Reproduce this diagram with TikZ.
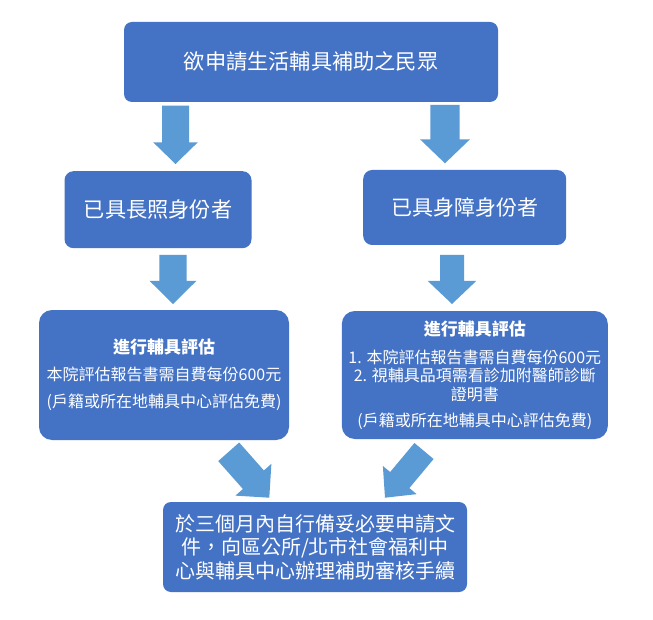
\documentclass[tikz,border=0pt]{standalone}
\usepackage{fontspec}
\setmainfont{Noto Sans CJK TC}
\usetikzlibrary{calc}
\definecolor{boxblue}{HTML}{4472C4}
\definecolor{arrowblue}{HTML}{5B9BD5}
\tikzset{
  box/.style={fill=boxblue, text=white, rounded corners=#1, inner sep=0pt, align=center},
  box/.default=8pt,
  barrowfill/.style={fill=arrowblue}
}
% tail, tip, shaft half width, head half width, head length
\newcommand\blockarrow[5]{%
  \coordinate (#1-hb) at ($(#2)!#5!(#1)$);
  \fill[barrowfill]
    ($(#1)!#3!90:(#2)$) --
    ($(#1-hb)!#3!90:(#2)$) --
    ($(#1-hb)!#4!90:(#2)$) --
    (#2) --
    ($(#1-hb)!#4!-90:(#2)$) --
    ($(#1-hb)!#3!-90:(#2)$) --
    ($(#1)!#3!-90:(#2)$) -- cycle;
}
\begin{document}
\begin{tikzpicture}[x=1pt,y=-1pt]
\fill[white] (0,0) rectangle (653,620);
\useasboundingbox (0,0) rectangle (653,620);

\node[box=8pt, minimum width=374pt, minimum height=80pt,
      font=\fontsize{21.2pt}{25pt}\selectfont] (top) at (311,62) {欲申請生活輔具補助之民眾};

\node[box=9pt, minimum width=187pt, minimum height=77pt,
      font=\fontsize{21.2pt}{25pt}\selectfont] (ltc) at (158,209.7) {已具長照身份者};

\node[box=9pt, minimum width=203pt, minimum height=75pt,
      font=\fontsize{21pt}{25pt}\selectfont] (dis) at (464.7,207.5) {已具身障身份者};

\node[box=13pt, minimum width=250pt, minimum height=130pt,
      font=\fontsize{16pt}{27pt}\selectfont] (evl) at (164,375)
  {{\fontsize{17pt}{27pt}\selectfont\bfseries 進行輔具評估}\\本院評估報告書需自費每份600元\\(戶籍或所在地輔具中心評估免費)};

\node[box=13pt, minimum width=266pt, minimum height=128pt,
      font=\fontsize{16pt}{18.5pt}\selectfont] (evr) at (474.8,375)
  {{\fontsize{17pt}{18.5pt}\selectfont\bfseries 進行輔具評估}\\[9.5pt]1. 本院評估報告書需自費每份600元\\2. 視輔具品項需看診加附醫師診斷\\證明書\\[7.5pt](戶籍或所在地輔具中心評估免費)};

\node[box=8pt, minimum width=304pt, minimum height=90pt,
      font=\fontsize{20pt}{23.5pt}\selectfont] (sub) at (315,547)
  {於三個月內自行備妥必要申請文\\件，向區公所/北市社會福利中\\心與輔具中心辦理補助審核手續};

\coordinate (a1t) at (175.5,105.7); \coordinate (a1h) at (175.5,164);
\coordinate (a2t) at (445,105);     \coordinate (a2h) at (445,163.3);
\coordinate (a3t) at (173,255);     \coordinate (a3h) at (173,304);
\coordinate (a4t) at (452,255);     \coordinate (a4h) at (452,304);
\coordinate (d1t) at (228.7,451.8); \coordinate (d1h) at (269.3,497.7);
\coordinate (d2t) at (424,451);     \coordinate (d2h) at (385,497.7);

\blockarrow{a1t}{a1h}{13.5pt}{22.3pt}{21.7pt}
\blockarrow{a2t}{a2h}{14.6pt}{25pt}{24pt}
\blockarrow{a3t}{a3h}{13.7pt}{23.3pt}{23pt}
\blockarrow{a4t}{a4h}{12pt}{24.2pt}{23pt}
\blockarrow{d1t}{d1h}{14pt}{24pt}{24pt}
\blockarrow{d2t}{d2h}{12.5pt}{22pt}{23pt}
\end{tikzpicture}
\end{document}
